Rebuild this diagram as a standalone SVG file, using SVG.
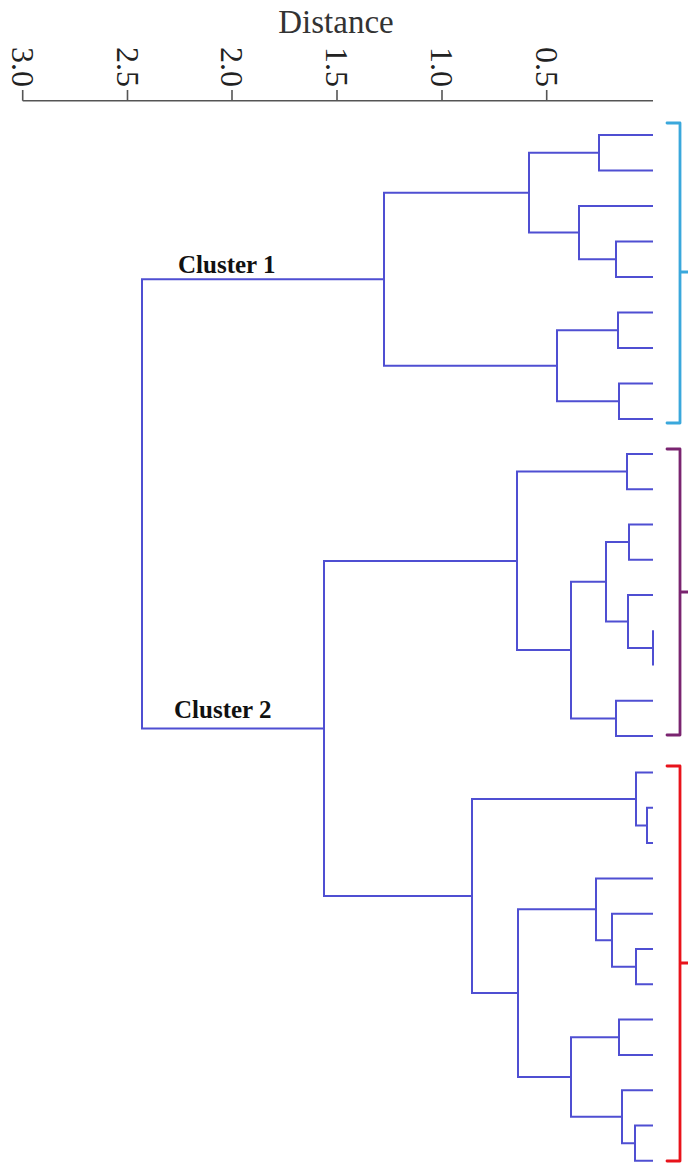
<svg xmlns="http://www.w3.org/2000/svg" width="688" height="1165" viewBox="0 0 688 1165">
<style>
.ax{stroke:#555;stroke-width:1.6;fill:none}
.tk{font-family:"Liberation Serif","Times New Roman",serif;font-size:32px;fill:#222}
.ttl{font-family:"Liberation Serif","Times New Roman",serif;font-size:33px;fill:#333}
.cl{font-family:"Liberation Serif","Times New Roman",serif;font-size:25px;font-weight:bold;fill:#111}
.ln{stroke:#4f4fd2;stroke-width:2;fill:none;stroke-linejoin:miter}
.br{stroke-width:2.8;fill:none;stroke-linejoin:round;stroke-linecap:round}
</style>
<rect width="688" height="1165" fill="#fff"/>
<g id="axis">
<text class="ttl" x="336" y="33" text-anchor="middle">Distance</text>
<path class="ax" d="M22.7 100.7H653M22.7 90V100.7M127.5 90V100.7M232 90V100.7M337 90V100.7M442 90V100.7M546.7 90V100.7"/>
<text class="tk" text-anchor="end" transform="translate(11.7,87) rotate(90)">3.0</text>
<text class="tk" text-anchor="end" transform="translate(116.5,87) rotate(90)">2.5</text>
<text class="tk" text-anchor="end" transform="translate(221,87) rotate(90)">2.0</text>
<text class="tk" text-anchor="end" transform="translate(326,87) rotate(90)">1.5</text>
<text class="tk" text-anchor="end" transform="translate(431,87) rotate(90)">1.0</text>
<text class="tk" text-anchor="end" transform="translate(535.7,87) rotate(90)">0.5</text>
</g>
<g id="connectors">
<path class="ln" d="M653 135H599V170.5H653"/>
<path class="ln" d="M653 241.5H616V277H653"/>
<path class="ln" d="M653 206H579V259.25H616"/>
<path class="ln" d="M599 152.75H529V232.6H579"/>
<path class="ln" d="M653 312.5H618V348H653"/>
<path class="ln" d="M653 383.5H619V419H653"/>
<path class="ln" d="M618 330.25H557V401.25H619"/>
<path class="ln" d="M529 192.7H384V365.75H557"/>
<path class="ln" d="M653 454H627V489.25H653"/>
<path class="ln" d="M653 524.5H629V559.75H653"/>
<path class="ln" d="M653 630.25V665.5"/>
<path class="ln" d="M653 595H628V647.9H653"/>
<path class="ln" d="M629 542.1H606V621.4H628"/>
<path class="ln" d="M653 700.75H616V736H653"/>
<path class="ln" d="M606 581.8H571V718.4H616"/>
<path class="ln" d="M627 471.6H517V650.1H571"/>
<path class="ln" d="M653 807.8H647V843.1H653"/>
<path class="ln" d="M653 772.5H636V825.45H647"/>
<path class="ln" d="M653 949H636V984.3H653"/>
<path class="ln" d="M653 913.7H612V966.65H636"/>
<path class="ln" d="M653 878.4H596V940.2H612"/>
<path class="ln" d="M653 1019.6H619V1054.9H653"/>
<path class="ln" d="M653 1125.5H635V1160.8H653"/>
<path class="ln" d="M653 1090.2H622V1143.15H635"/>
<path class="ln" d="M619 1037.25H571V1116.7H622"/>
<path class="ln" d="M596 909.3H518V1077H571"/>
<path class="ln" d="M636 799H472V993.1H518"/>
<path class="ln" d="M517 560.9H324V896H472"/>
<path class="ln" d="M384 279.2H142V728.5H324"/>
</g>
<g id="cluster1-label"><text class="cl" x="178" y="273">Cluster 1</text></g>
<g id="cluster2-label"><text class="cl" x="174" y="718">Cluster 2</text></g>
<g id="bracket-cyan"><path class="br" stroke="#3aa8dc" d="M667 123H680V423H667M680 272H688"/></g>
<g id="bracket-purple"><path class="br" stroke="#7a2470" d="M667 449H680V735H667M680 592H688"/></g>
<g id="bracket-red"><path class="br" stroke="#e8131b" d="M667 766H680V1161H667M680 963H688"/></g>
</svg>
